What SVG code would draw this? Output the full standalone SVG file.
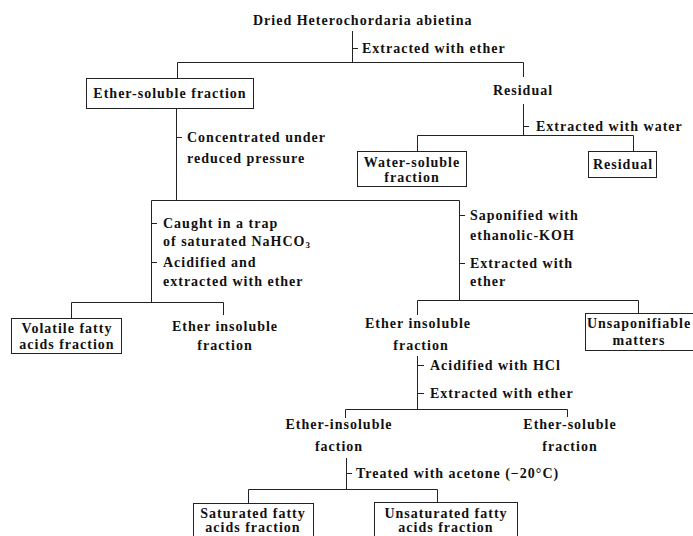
<svg xmlns="http://www.w3.org/2000/svg" width="693" height="536" viewBox="0 0 693 536">
<style>
text{font-family:"Liberation Serif","Times New Roman",serif;font-weight:bold;font-size:14px;letter-spacing:1px;fill:#111}
.c{text-anchor:middle}
.box{fill:none;stroke:#222;stroke-width:1}
.ln{fill:none;stroke:#222;stroke-width:1}
</style>
<rect width="693" height="536" fill="#fff"/>
<g id="connectors" class="ln">
<path d="M352.5 31V62.5M352.5 48.5H358"/>
<path d="M177.5 78V62.5H523.5V77"/>
<path d="M523.5 104V135.5M523.5 126.5H529"/>
<path d="M417.5 151V135.5H633.5V151"/>
<path d="M176.5 108V200.5M176.5 137.5H182"/>
<path d="M151.5 200.5H459.5"/>
<path d="M151.5 200.5V302.5M151.5 223.5H157M151.5 262.5H157"/>
<path d="M71.5 318V302.5H223.5V315"/>
<path d="M459.5 200.5V300.5M459.5 215.5H465M459.5 263.5H465"/>
<path d="M417.5 315V300.5H638.5V313"/>
<path d="M417.5 356V409.5M417.5 365.5H424M417.5 393.5H424"/>
<path d="M345.5 418V409.5H567.5V417"/>
<path d="M346.5 458V489.5M346.5 473.5H352"/>
<path d="M248.5 503V489.5H437.5V502"/>
</g>
<g id="step-labels">
<text x="362" y="53">Extracted with ether</text>
<text x="536" y="131">Extracted with water</text>
<text x="187" y="142">Concentrated under</text>
<text x="187" y="163">reduced pressure</text>
<text x="163" y="228">Caught in a trap</text>
<text x="163" y="246">of saturated NaHCO<tspan font-size="9" dy="2">3</tspan></text>
<text x="163" y="267">Acidified and</text>
<text x="163" y="286">extracted with ether</text>
<text x="470" y="220">Saponified with</text>
<text x="470" y="240">ethanolic-KOH</text>
<text x="470" y="268">Extracted with</text>
<text x="470" y="286">ether</text>
<text x="430" y="370">Acidified with HCl</text>
<text x="430" y="398">Extracted with ether</text>
<text x="356" y="478">Treated with acetone (−20°C)</text>
</g>
<g id="n-dried"><text x="253" y="25">Dried Heterochordaria abietina</text></g>
<g id="n-ether-soluble"><rect class="box" x="86.5" y="78.5" width="167" height="30"/><text class="c" x="170" y="98">Ether-soluble fraction</text></g>
<g id="n-residual1"><text class="c" x="523" y="95">Residual</text></g>
<g id="n-water-soluble"><rect class="box" x="357.5" y="151.5" width="109" height="35"/><text class="c" x="412" y="167">Water-soluble</text><text class="c" x="412" y="182">fraction</text></g>
<g id="n-residual2"><rect class="box" x="588.5" y="151.5" width="68" height="26"/><text class="c" x="623" y="169">Residual</text></g>
<g id="n-volatile"><rect class="box" x="11.5" y="318.5" width="110" height="35"/><text class="c" x="67" y="333">Volatile fatty</text><text class="c" x="67" y="349">acids fraction</text></g>
<g id="n-ether-insoluble1"><text class="c" x="225" y="331">Ether insoluble</text><text class="c" x="225" y="350">fraction</text></g>
<g id="n-ether-insoluble2"><text class="c" x="418" y="328">Ether insoluble</text><text class="c" x="421" y="350">fraction</text></g>
<g id="n-unsaponifiable"><rect class="box" x="585.5" y="313.5" width="110" height="37"/><text class="c" x="639" y="328">Unsaponifiable</text><text class="c" x="639" y="345">matters</text></g>
<g id="n-ether-insoluble3"><text class="c" x="339" y="429">Ether-insoluble</text><text class="c" x="339" y="451">faction</text></g>
<g id="n-ether-soluble2"><text class="c" x="570" y="429">Ether-soluble</text><text class="c" x="570" y="451">fraction</text></g>
<g id="n-saturated"><rect class="box" x="193.5" y="503.5" width="120" height="40"/><text class="c" x="253" y="518">Saturated fatty</text><text class="c" x="253" y="532">acids fraction</text></g>
<g id="n-unsaturated"><rect class="box" x="374.5" y="502.5" width="143" height="40"/><text class="c" x="446" y="518">Unsaturated fatty</text><text class="c" x="446" y="532">acids fraction</text></g>
</svg>
